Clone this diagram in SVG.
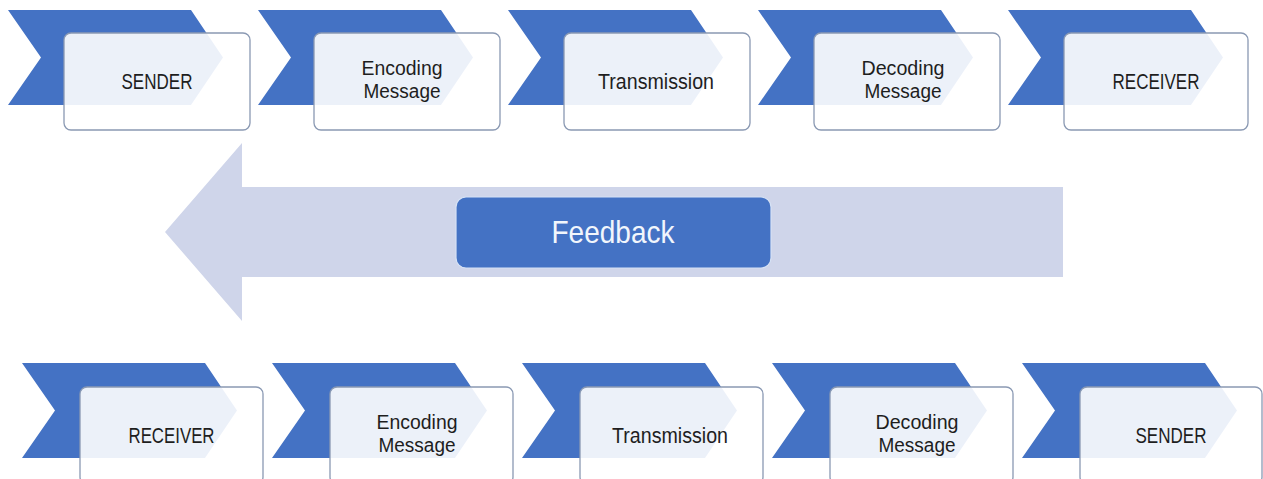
<svg xmlns="http://www.w3.org/2000/svg" xmlns:xlink="http://www.w3.org/1999/xlink" width="1263" height="479" viewBox="0 0 1263 479">
  <style>
    .chev { fill: #4472c4; }
    .card { fill: #ffffff; fill-opacity: 0.9; stroke: #8a99b3; stroke-width: 1.3; }
    .lbl { font-family: "Liberation Sans", Arial, sans-serif; font-size: 22.5px; fill: #1e1e1e; text-anchor: middle; }
    .lbl2 { font-size: 20px; }
    .fb-arrow { fill: #cfd5ea; }
    .fb-box { fill: #4472c4; stroke: #d6e2f5; stroke-width: 1.2; }
    .fb-lbl { font-family: "Liberation Sans", Arial, sans-serif; font-size: 32px; fill: #f2f6fc; text-anchor: middle; }
  </style>
  <defs>
    <!-- chevron banner behind each card -->
    <path id="chevron" d="M0,0 H183 L215,47.5 L183,95 H0 L33,47.5 Z"/>
  </defs>

  <rect width="1263" height="479" fill="#ffffff"/>

  <!-- top row: sender to receiver -->
  <g id="top-sender">
    <use xlink:href="#chevron" class="chev" x="8" y="10"/>
    <rect class="card" x="64" y="33" width="186" height="97" rx="7"/>
    <text class="lbl" x="157" y="89" textLength="71" lengthAdjust="spacingAndGlyphs">SENDER</text>
  </g>
  <g id="top-encoding">
    <use xlink:href="#chevron" class="chev" x="258" y="10"/>
    <rect class="card" x="314" y="33" width="186" height="97" rx="7"/>
    <text class="lbl lbl2" x="402" y="75" textLength="81" lengthAdjust="spacingAndGlyphs">Encoding</text>
    <text class="lbl lbl2" x="402" y="98" textLength="77" lengthAdjust="spacingAndGlyphs">Message</text>
  </g>
  <g id="top-transmission">
    <use xlink:href="#chevron" class="chev" x="508" y="10"/>
    <rect class="card" x="564" y="33" width="186" height="97" rx="7"/>
    <text class="lbl" x="656" y="89" textLength="116" lengthAdjust="spacingAndGlyphs">Transmission</text>
  </g>
  <g id="top-decoding">
    <use xlink:href="#chevron" class="chev" x="758" y="10"/>
    <rect class="card" x="814" y="33" width="186" height="97" rx="7"/>
    <text class="lbl lbl2" x="903" y="75" textLength="83" lengthAdjust="spacingAndGlyphs">Decoding</text>
    <text class="lbl lbl2" x="903" y="98" textLength="77" lengthAdjust="spacingAndGlyphs">Message</text>
  </g>
  <g id="top-receiver">
    <use xlink:href="#chevron" class="chev" x="1008" y="10"/>
    <rect class="card" x="1064" y="33" width="184" height="97" rx="7"/>
    <text class="lbl" x="1156" y="89" textLength="87" lengthAdjust="spacingAndGlyphs">RECEIVER</text>
  </g>

  <!-- feedback arrow pointing back to the start -->
  <g id="connectors">
    <polygon class="fb-arrow" points="165,232 242,143 242,187 1063,187 1063,277 242,277 242,321"/>
  </g>
  <g id="feedback">
    <rect class="fb-box" x="456" y="197" width="315" height="71" rx="10"/>
    <text class="fb-lbl" x="613" y="243" textLength="123" lengthAdjust="spacingAndGlyphs">Feedback</text>
  </g>

  <!-- bottom row: receiver back to sender -->
  <g id="bottom-receiver">
    <use xlink:href="#chevron" class="chev" x="22" y="363"/>
    <rect class="card" x="80" y="387" width="183" height="97" rx="7"/>
    <text class="lbl" x="171.5" y="443" textLength="86" lengthAdjust="spacingAndGlyphs">RECEIVER</text>
  </g>
  <g id="bottom-encoding">
    <use xlink:href="#chevron" class="chev" x="272" y="363"/>
    <rect class="card" x="330" y="387" width="183" height="97" rx="7"/>
    <text class="lbl lbl2" x="417" y="429" textLength="81" lengthAdjust="spacingAndGlyphs">Encoding</text>
    <text class="lbl lbl2" x="417" y="452" textLength="77" lengthAdjust="spacingAndGlyphs">Message</text>
  </g>
  <g id="bottom-transmission">
    <use xlink:href="#chevron" class="chev" x="522" y="363"/>
    <rect class="card" x="580" y="387" width="183" height="97" rx="7"/>
    <text class="lbl" x="670" y="443" textLength="116" lengthAdjust="spacingAndGlyphs">Transmission</text>
  </g>
  <g id="bottom-decoding">
    <use xlink:href="#chevron" class="chev" x="772" y="363"/>
    <rect class="card" x="830" y="387" width="183" height="97" rx="7"/>
    <text class="lbl lbl2" x="917" y="429" textLength="83" lengthAdjust="spacingAndGlyphs">Decoding</text>
    <text class="lbl lbl2" x="917" y="452" textLength="77" lengthAdjust="spacingAndGlyphs">Message</text>
  </g>
  <g id="bottom-sender">
    <use xlink:href="#chevron" class="chev" x="1022" y="363"/>
    <rect class="card" x="1080" y="387" width="182" height="97" rx="7"/>
    <text class="lbl" x="1171" y="443" textLength="71" lengthAdjust="spacingAndGlyphs">SENDER</text>
  </g>
</svg>
